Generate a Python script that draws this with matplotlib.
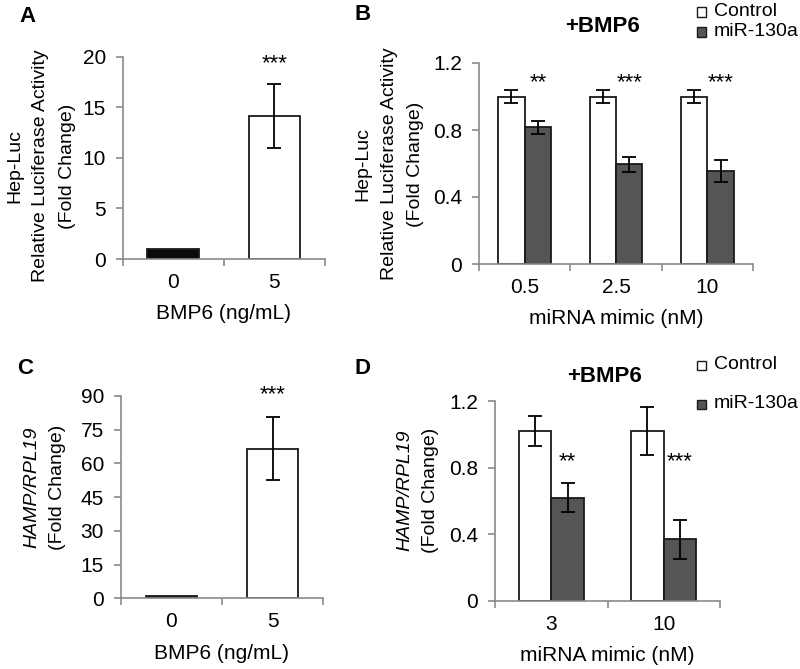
import numpy as np
import matplotlib.pyplot as plt
from matplotlib.patches import Rectangle

plt.rcParams['font.family'] = ['Liberation Sans', 'DejaVu Sans']

# Panel A: Hep-Luc, BMP6 dose
a_labels = ['0', '5']
a_values = [1.0, 14.15]
a_errors = [0.05, 3.2]

# Panel B: Hep-Luc + BMP6, miRNA mimic dose
b_labels = ['0.5', '2.5', '10']
b_control = [1.0, 1.0, 1.0]
b_control_err = [0.04, 0.04, 0.04]
b_mir = [0.815, 0.595, 0.555]
b_mir_err = [0.04, 0.045, 0.068]
b_stars = ['**', '***', '***']

# Panel C: HAMP/RPL19, BMP6 dose
c_labels = ['0', '5']
c_values = [1.0, 66.6]
c_errors = [0.3, 13.9]

# Panel D: HAMP/RPL19 + BMP6, miRNA mimic dose
d_labels = ['3', '10']
d_control = [1.02, 1.02]
d_control_err = [0.09, 0.146]
d_mir = [0.62, 0.368]
d_mir_err = [0.09, 0.115]
d_stars = ['**', '***']

FS = 15      # ticks, x labels
YFS = 14     # y axis labels, legend
GRAY = '#8a8a8a'
DARK = '#555555'
EDGE = '#1a1a1a'
err_kw = dict(ecolor='black', elinewidth=1.3, capsize=5, capthick=1.3)


def style(ax, labels, yticks, ylabels, xlabel):
    n = len(labels)
    for s in ['top', 'right']:
        ax.spines[s].set_visible(False)
    for s in ['left', 'bottom']:
        ax.spines[s].set_color(GRAY)
        ax.spines[s].set_linewidth(1.2)
    ax.set_xlim(-0.5, n - 0.5)
    ax.set_ylim(0, yticks[-1])
    ax.set_yticks(yticks)
    ax.set_yticklabels(ylabels, fontsize=FS)
    ax.set_xticks(range(n))
    ax.set_xticklabels(labels, fontsize=FS)
    ax.set_xticks(np.arange(-0.5, n), minor=True)
    ax.tick_params(axis='x', which='major', length=0, pad=10)
    ax.tick_params(axis='x', which='minor', length=5, width=1.2, color=GRAY)
    ax.tick_params(axis='y', length=5, width=1.2, color=GRAY, pad=7)
    ax.set_xlabel(xlabel, fontsize=FS, labelpad=9)


def legend(fig, x, y_ctrl, y_mir):
    for yy, fc, lab in [(y_ctrl, 'white', 'Control'), (y_mir, DARK, 'miR-130a')]:
        fig.add_artist(Rectangle((x / 800, 1 - (yy + 4.5) / 669), 9 / 800, 9 / 669,
                                 transform=fig.transFigure, facecolor=fc,
                                 edgecolor=EDGE, linewidth=1.0))
        fig.text((x + 17) / 800, 1 - yy / 669, lab, fontsize=YFS, va='center', ha='left')


fig = plt.figure(figsize=(8, 6.69), dpi=100)

# ---- A ----
axA = fig.add_axes([122.7 / 800, 1 - 259 / 669, 202.3 / 800, 202.3 / 669])
xa = np.arange(len(a_labels))
axA.bar(xa, a_values, width=0.51, color=['#0a0a0a', 'white'], edgecolor=EDGE, linewidth=1.3)
axA.errorbar(xa[1:], a_values[1:], yerr=a_errors[1:], fmt='none', **err_kw)
style(axA, a_labels, [0, 5, 10, 15, 20], ['0', '5', '10', '15', '20'], 'BMP6 (ng/mL)')
axA.text(1, 19.3, '***', ha='center', va='center', fontsize=16)

# ---- B ----
axB = fig.add_axes([479 / 800, 1 - 264 / 669, 274 / 800, 201 / 669])
xb = np.arange(len(b_labels))
w = 0.29
axB.bar(xb - w / 2, b_control, width=w, color='white', edgecolor=EDGE, linewidth=1.3)
axB.bar(xb + w / 2, b_mir, width=w, color=DARK, edgecolor=EDGE, linewidth=1.3)
axB.errorbar(xb - w / 2, b_control, yerr=b_control_err, fmt='none', **err_kw)
axB.errorbar(xb + w / 2, b_mir, yerr=b_mir_err, fmt='none', **err_kw)
style(axB, b_labels, [0, 0.4, 0.8, 1.2], ['0', '0.4', '0.8', '1.2'], 'miRNA mimic (nM)')
for xi, s in zip(xb, b_stars):
    axB.text(xi + w / 2, 1.08, s, ha='center', va='center', fontsize=16)

# ---- C ----
axC = fig.add_axes([120.7 / 800, 1 - 598.3 / 669, 202.6 / 800, 202.3 / 669])
xc = np.arange(len(c_labels))
axC.bar(xc, c_values, width=0.51, color=['#222222', 'white'], edgecolor=EDGE, linewidth=1.3)
axC.errorbar(xc[1:], c_values[1:], yerr=c_errors[1:], fmt='none', **err_kw)
style(axC, c_labels, [0, 15, 30, 45, 60, 75, 90], ['0', '15', '30', '45', '60', '75', '90'], 'BMP6 (ng/mL)')
axC.text(1, 90.5, '***', ha='center', va='center', fontsize=16)

# ---- D ----
axD = fig.add_axes([495 / 800, 1 - 600.7 / 669, 225 / 800, 199.7 / 669])
xd = np.arange(len(d_labels))
axD.bar(xd - w / 2, d_control, width=w, color='white', edgecolor=EDGE, linewidth=1.3)
axD.bar(xd + w / 2, d_mir, width=w, color=DARK, edgecolor=EDGE, linewidth=1.3)
axD.errorbar(xd - w / 2, d_control, yerr=d_control_err, fmt='none', **err_kw)
axD.errorbar(xd + w / 2, d_mir, yerr=d_mir_err, fmt='none', **err_kw)
style(axD, d_labels, [0, 0.4, 0.8, 1.2], ['0', '0.4', '0.8', '1.2'], 'miRNA mimic (nM)')
for xi, s in zip(xd, d_stars):
    axD.text(xi + w / 2, 0.835, s, ha='center', va='center', fontsize=16)

# y labels
for x0, yc in [(15, 166), (363, 164)]:
    for dx, line in zip([0, 26, 52], ['Hep-Luc', 'Relative Luciferase Activity', '(Fold Change)']):
        fig.text((x0 + dx) / 800, 1 - yc / 669, line, rotation=90, fontsize=YFS,
                 ha='center', va='center')
for x0, yc in [(32, 487), (405, 490)]:
    fig.text(x0 / 800, 1 - yc / 669, 'HAMP/RPL19', rotation=90, fontsize=YFS,
             style='italic', ha='center', va='center')
    fig.text((x0 + 26) / 800, 1 - yc / 669, '(Fold Change)', rotation=90, fontsize=YFS,
             ha='center', va='center')

# titles and legends
fig.text(603 / 800, 1 - 27 / 669, '+BMP6', fontsize=16, fontweight='bold', ha='center', va='center')
fig.text(605 / 800, 1 - 377 / 669, '+BMP6', fontsize=16, fontweight='bold', ha='center', va='center')
legend(fig, 697, 12, 32)
legend(fig, 697, 365, 404)

# panel letters
for lab, x, y in [('A', 27, 17), ('B', 363, 15), ('C', 25, 368), ('D', 362, 368)]:
    fig.text(x / 800, 1 - y / 669, lab, fontsize=16, fontweight='bold', ha='center', va='center')

fig.savefig('out.png', dpi=100)
